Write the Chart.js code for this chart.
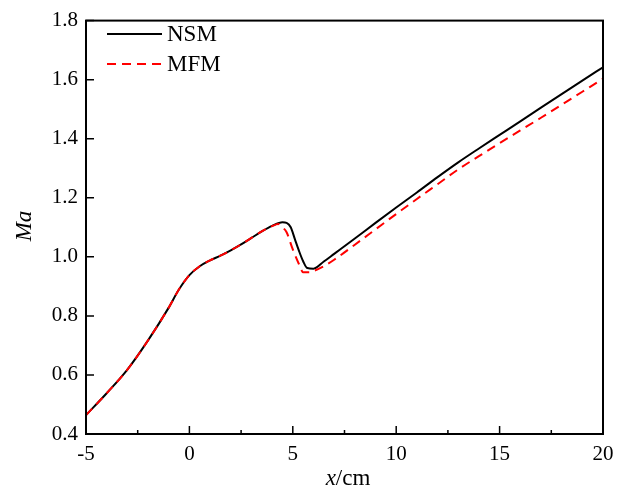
<html lang="en">
<head>
    <meta charset="UTF-8">
    <title>Ma along x</title>
    <style>
        body { margin: 0; background: #fff; }
        .chartBox { width: 630px; height: 490px; }
    </style>
</head>
<body>
    <div class="chartBox">
        <canvas id="myChart" width="630" height="490"></canvas>
    </div>

    <script src="https://cdn.jsdelivr.net/npm/chart.js@4"></script>
    <script>
        // positions along the nozzle (cm)
        const xNSM = [-5, -4, -3, -2, -1, -0.5, 0, 0.5, 1, 1.5, 2, 2.5, 3, 3.5, 4, 4.5, 4.7, 4.9, 5.1, 5.3, 5.5, 5.7, 6, 6.5, 7, 8, 9, 10, 11, 12, 13, 14, 15, 16, 17, 18, 19, 20];
        const maNSM = [0.464, 0.538, 0.618, 0.717, 0.828, 0.890, 0.938, 0.968, 0.988, 1.004, 1.022, 1.042, 1.064, 1.086, 1.105, 1.117, 1.115, 1.100, 1.060, 1.020, 0.985, 0.962, 0.960, 0.984, 1.010, 1.062, 1.115, 1.167, 1.218, 1.270, 1.320, 1.367, 1.413, 1.459, 1.505, 1.551, 1.597, 1.642];

        const xMFM = [-5, -4, -3, -2, -1, -0.5, 0, 0.5, 1, 1.5, 2, 2.5, 3, 3.5, 4, 4.3, 4.5, 4.7, 5.0, 5.3, 5.5, 5.8, 6, 6.5, 7, 8, 9, 10, 11, 12, 13, 14, 15, 16, 17, 18, 19, 20];
        const maMFM = [0.464, 0.538, 0.618, 0.717, 0.828, 0.890, 0.938, 0.968, 0.988, 1.004, 1.022, 1.042, 1.064, 1.086, 1.104, 1.111, 1.100, 1.083, 1.025, 0.975, 0.948, 0.948, 0.952, 0.968, 0.990, 1.041, 1.093, 1.145, 1.196, 1.246, 1.296, 1.341, 1.385, 1.428, 1.471, 1.515, 1.559, 1.603];

        const xMajor = [-5, 0, 5, 10, 15, 20];
        const xMinor = [-2.5, 2.5, 7.5, 12.5, 17.5];
        const yMajor = [0.4, 0.6, 0.8, 1.0, 1.2, 1.4, 1.6, 1.8];

        const serif = '"Liberation Serif", "DejaVu Serif", serif';

        function toPoints(xs, ys) {
            return xs.map((x, i) => ({ x: x, y: ys[i] }));
        }

        // frame, inward ticks, legend and axis titles
        const framePlugin = {
            id: 'frame',
            afterDraw(chart) {
                const ctx = chart.ctx;
                const a = chart.chartArea;
                const xs = chart.scales.x, ys = chart.scales.y;
                ctx.save();
                ctx.strokeStyle = '#000';
                ctx.lineWidth = 2;
                ctx.strokeRect(a.left, a.top, a.right - a.left, a.bottom - a.top);

                ctx.lineWidth = 1.5;
                ctx.beginPath();
                xMajor.forEach(v => {
                    const p = xs.getPixelForValue(v);
                    ctx.moveTo(p, a.bottom); ctx.lineTo(p, a.bottom - 8);
                });
                xMinor.forEach(v => {
                    const p = xs.getPixelForValue(v);
                    ctx.moveTo(p, a.bottom); ctx.lineTo(p, a.bottom - 4);
                });
                yMajor.forEach(v => {
                    const p = ys.getPixelForValue(v);
                    ctx.moveTo(a.left, p); ctx.lineTo(a.left + 8, p);
                });
                ctx.stroke();

                // legend
                ctx.font = '23px ' + serif;
                ctx.textBaseline = 'middle';
                ctx.textAlign = 'left';
                chart.data.datasets.forEach((ds, i) => {
                    const y = 34 + i * 30;
                    ctx.strokeStyle = ds.borderColor;
                    ctx.lineWidth = ds.borderWidth;
                    ctx.setLineDash(ds.borderDash || []);
                    ctx.beginPath();
                    ctx.moveTo(107, y); ctx.lineTo(162, y);
                    ctx.stroke();
                    ctx.setLineDash([]);
                    ctx.fillStyle = '#000';
                    ctx.fillText(ds.label, 167, y + 1);
                });

                // x title: italic x, upright /cm
                ctx.fillStyle = '#000';
                ctx.textBaseline = 'alphabetic';
                ctx.font = 'italic 23px ' + serif;
                const w1 = ctx.measureText('x').width;
                ctx.font = '23px ' + serif;
                const w2 = ctx.measureText('/cm').width;
                let tx = 348 - (w1 + w2) / 2;
                ctx.font = 'italic 23px ' + serif;
                ctx.fillText('x', tx, 485);
                ctx.font = '23px ' + serif;
                ctx.fillText('/cm', tx + w1, 485);

                // y title
                ctx.translate(25, 226);
                ctx.rotate(-Math.PI / 2);
                ctx.textAlign = 'center';
                ctx.textBaseline = 'middle';
                ctx.font = 'italic 23px ' + serif;
                ctx.fillText('Ma', 0, 0);
                ctx.restore();
            }
        };

        const ctx = document.getElementById('myChart').getContext('2d');
        const chart = new Chart(ctx, {
            type: 'line',
            data: {
                datasets: [
                    // red dashes sit on top of the black line where they overlap
                    { label: 'NSM', order: 2, data: toPoints(xNSM, maNSM), borderColor: '#000000', borderWidth: 2, pointRadius: 0, cubicInterpolationMode: 'monotone' },
                    { label: 'MFM', order: 1, data: toPoints(xMFM, maMFM), borderColor: '#ff0000', borderWidth: 2, borderDash: [9, 6], pointRadius: 0, cubicInterpolationMode: 'monotone' }
                ]
            },
            options: {
                responsive: false,
                animation: false,
                layout: { padding: { left: 0, right: 27, top: 16, bottom: 0 } },
                plugins: { legend: { display: false }, tooltip: { enabled: false } },
                scales: {
                    x: {
                        type: 'linear', min: -5, max: 20,
                        afterBuildTicks: s => { s.ticks = xMajor.map(v => ({ value: v })); },
                        afterFit: s => { s.height = 56; },
                        grid: { display: false, drawTicks: false },
                        border: { display: false },
                        ticks: { color: '#000', padding: 8, font: { family: serif, size: 21 } }
                    },
                    y: {
                        type: 'linear', min: 0.4, max: 1.8,
                        afterBuildTicks: s => { s.ticks = yMajor.map(v => ({ value: v })); },
                        afterFit: s => { s.width = 86; },
                        grid: { display: false, drawTicks: false },
                        border: { display: false },
                        ticks: { color: '#000', padding: 8, font: { family: serif, size: 21 }, callback: v => v.toFixed(1) }
                    }
                }
            },
            plugins: [framePlugin]
        });
    </script>
</body>
</html>
